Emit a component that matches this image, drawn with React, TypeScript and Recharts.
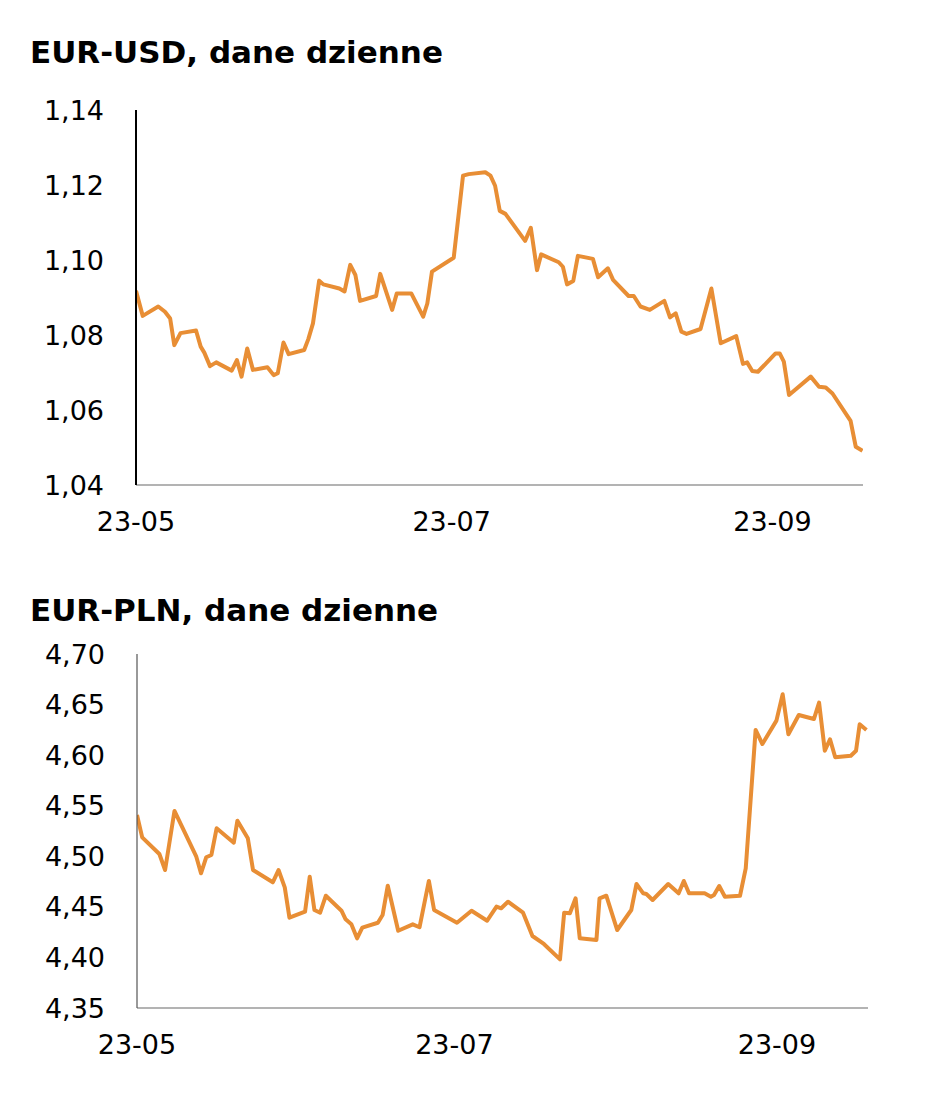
import React from "react";
import { LineChart, Line, XAxis, YAxis } from "recharts";

// ---- shared x-axis (days since 2023-05-01) ----
const xTickDays = [0, 61, 123];
const xTickLabels = ["23-05", "23-07", "23-09"];

// ---- EUR-USD ----
const usdTitle = "EUR-USD, dane dzienne";
const usdTicks = [1.04, 1.06, 1.08, 1.1, 1.12, 1.14];
const usdDays = [
  0, 1.3, 4.3, 5.6, 6.6, 7.4, 8.6, 11.6, 12.5, 13.2, 14.3, 15.5, 18.5, 19.5, 20.4, 21.5, 22.6, 25.4, 26.6, 27.4,
  28.5, 29.5, 32.5, 33.3, 34.2, 35.4, 36.2, 39.3, 40.3, 41.4, 42.4, 43.3, 46.4, 47.2, 49.5, 50.4, 53.2, 55.5, 56.3, 57.2,
  61.4, 63.2, 64.3, 67.5, 68.5, 69.4, 70.3, 71.4, 75.2, 76.3, 77.5, 78.3, 81.7, 82.5, 83.3, 84.5, 85.4, 88.3, 89.3, 91.2,
  92.2, 95.2, 96.2, 97.5, 99.3, 102.1, 103.2, 104.3, 105.4, 106.4, 109.1, 111.2, 113, 116, 117.3, 118.1, 119.1, 120.2, 123.6, 124.4,
  125.2, 126.2, 130.4, 132, 133.3, 134.6, 138.1, 139.1, 140.4,
];
const usdValues = [
  1.0918, 1.0851, 1.0876, 1.0862, 1.0844, 1.0773, 1.0805, 1.0812, 1.0769, 1.0753, 1.0717, 1.0727, 1.0705, 1.0733, 1.0689, 1.0764, 1.0707, 1.0714, 1.0693, 1.0698,
  1.078, 1.0749, 1.076, 1.0789, 1.0831, 1.0945, 1.0935, 1.0924, 1.0916, 1.0987, 1.096, 1.0891, 1.0904, 1.0963, 1.0867, 1.0911, 1.0911, 1.0849, 1.0884, 1.0969,
  1.1006, 1.1225, 1.1229, 1.1234, 1.1225, 1.1198, 1.1131, 1.1123, 1.1051, 1.1086, 1.0973, 1.1015, 1.0994, 1.0982, 1.0935, 1.0944, 1.1011, 1.1003, 1.0954, 1.0978,
  1.0947, 1.0904, 1.0904, 1.0876, 1.0867, 1.0891, 1.0847, 1.0858, 1.0809, 1.0803, 1.0816, 1.0924, 1.0778, 1.0797, 1.0723, 1.0727, 1.0704, 1.0702, 1.0751, 1.0751,
  1.0729, 1.064, 1.0689, 1.0662, 1.066, 1.0644, 1.0571, 1.0502, 1.0491,
];

// ---- EUR-PLN ----
const plnTitle = "EUR-PLN, dane dzienne";
const plnTicks = [4.35, 4.4, 4.45, 4.5, 4.55, 4.6, 4.65, 4.7];
const plnDays = [
  0, 1.0, 4.3, 5.4, 7.2, 11.4, 12.3, 13.3, 14.3, 15.3, 18.6, 19.3, 21.3, 22.3, 26.1, 27.2, 28.4, 29.3, 32.3, 33.2,
  34.1, 35.2, 36.3, 39.3, 40.1, 41.2, 42.3, 43.3, 46.3, 47.2, 48.2, 50.2, 53.0, 54.3, 56.1, 57.1, 61.5, 64.3, 67.3, 69.1,
  70.0, 71.3, 74.2, 76.0, 78.2, 81.3, 82.1, 83.2, 84.3, 85.1, 88.3, 88.9, 90.2, 92.3, 95.0, 96.0, 97.3, 97.9, 99.1, 102.1,
  104.1, 105.1, 106.1, 109.1, 110.3, 110.9, 111.9, 113.0, 115.9, 117.0, 118.9, 120.2, 122.9, 124.1, 125.2, 127.2, 130.1, 131.1, 132.2, 133.2,
  134.2, 137.2, 138.2, 138.9, 140.2,
];
const plnValues = [
  4.5408, 4.5187, 4.5023, 4.4864, 4.5448, 4.4996, 4.4832, 4.499, 4.5013, 4.5277, 4.5134, 4.5352, 4.5178, 4.4864, 4.4743, 4.4864, 4.4693, 4.4393, 4.4452, 4.4798,
  4.4469, 4.4442, 4.461, 4.4462, 4.4377, 4.4328, 4.4189, 4.4294, 4.4343, 4.4419, 4.4709, 4.4264, 4.4327, 4.4298, 4.4756, 4.4469, 4.4343, 4.4462, 4.4363, 4.4502,
  4.4486, 4.4551, 4.4442, 4.4212, 4.4133, 4.3981, 4.4442, 4.4436, 4.4585, 4.4189, 4.4172, 4.4585, 4.461, 4.4271, 4.4469, 4.4726, 4.4634, 4.4627, 4.4568, 4.4726,
  4.4634, 4.4756, 4.4634, 4.4634, 4.46, 4.4617, 4.4706, 4.46, 4.461, 4.4881, 4.6249, 4.611, 4.6341, 4.6602, 4.6206, 4.6397, 4.6357, 4.6519, 4.6044, 4.6157,
  4.5979, 4.5994, 4.6044, 4.6305, 4.6249,
];

const FONT = "'DejaVu Sans', Verdana, sans-serif";
const LINE_COLOR = "#E88E35";

const fmtComma = (digits: number) => (v: number) => v.toFixed(digits).replace(".", ",");
const fmtX = (v: number) => {
  const i = xTickDays.indexOf(v);
  return i >= 0 ? xTickLabels[i] : "";
};

type PanelProps = {
  title: string;
  days: number[];
  values: number[];
  ticks: number[];
  digits: number;
  top: number;
  height: number;
  titleTop: number;
  marginTop: number;
  marginRight: number;
  yAxisWidth: number;
  xAxisHeight: number;
  xDomainMax: number;
  yStroke: string;
  yStrokeWidth: number;
};

function Panel(p: PanelProps) {
  const data = p.days.map((d, i) => ({ d, v: p.values[i] }));
  return (
    <div style={{ position: "absolute", left: 0, top: p.top, width: 942, height: p.height }}>
      <div
        style={{
          position: "absolute",
          left: 30,
          top: p.titleTop,
          fontFamily: FONT,
          fontWeight: "bold",
          fontSize: 31,
          lineHeight: "31px",
          color: "#000",
          whiteSpace: "nowrap",
        }}
      >
        {p.title}
      </div>
      <LineChart
        width={942}
        height={p.height}
        data={data}
        margin={{ top: p.marginTop, right: p.marginRight, bottom: 0, left: 0 }}
      >
        <XAxis
          dataKey="d"
          type="number"
          domain={[0, p.xDomainMax]}
          ticks={xTickDays}
          tickFormatter={fmtX}
          interval={0}
          height={p.xAxisHeight}
          tickLine={false}
          tickSize={0}
          tickMargin={27}
          axisLine={{ stroke: "#9a9a9a", strokeWidth: 1.5 }}
          tick={{ fill: "#000", fontSize: 27, fontFamily: FONT }}
          allowDataOverflow
        />
        <YAxis
          type="number"
          domain={[p.ticks[0], p.ticks[p.ticks.length - 1]]}
          ticks={p.ticks}
          tickFormatter={fmtComma(p.digits)}
          interval={0}
          width={p.yAxisWidth}
          tickLine={false}
          tickSize={0}
          tickMargin={32}
          axisLine={{ stroke: p.yStroke, strokeWidth: p.yStrokeWidth }}
          tick={{ fill: "#000", fontSize: 27, fontFamily: FONT }}
          allowDataOverflow
        />
        <Line
          type="linear"
          dataKey="v"
          stroke={LINE_COLOR}
          strokeWidth={4}
          strokeLinejoin="round"
          dot={false}
          activeDot={false}
          isAnimationActive={false}
        />
      </LineChart>
    </div>
  );
}

export default function App() {
  return (
    <div style={{ position: "absolute", left: 0, top: 0, width: 942, height: 1112, background: "#fff" }}>
      <Panel
        title={usdTitle}
        days={usdDays}
        values={usdValues}
        ticks={usdTicks}
        digits={2}
        top={0}
        height={560}
        titleTop={37}
        marginTop={110}
        marginRight={79}
        yAxisWidth={136}
        xAxisHeight={75}
        xDomainMax={140.5}
        yStroke="#000"
        yStrokeWidth={2}
      />
      <Panel
        title={plnTitle}
        days={plnDays}
        values={plnValues}
        ticks={plnTicks}
        digits={2}
        top={560}
        height={552}
        titleTop={35}
        marginTop={94}
        marginRight={74}
        yAxisWidth={137}
        xAxisHeight={104}
        xDomainMax={140.5}
        yStroke="#555"
        yStrokeWidth={1.2}
      />
    </div>
  );
}
